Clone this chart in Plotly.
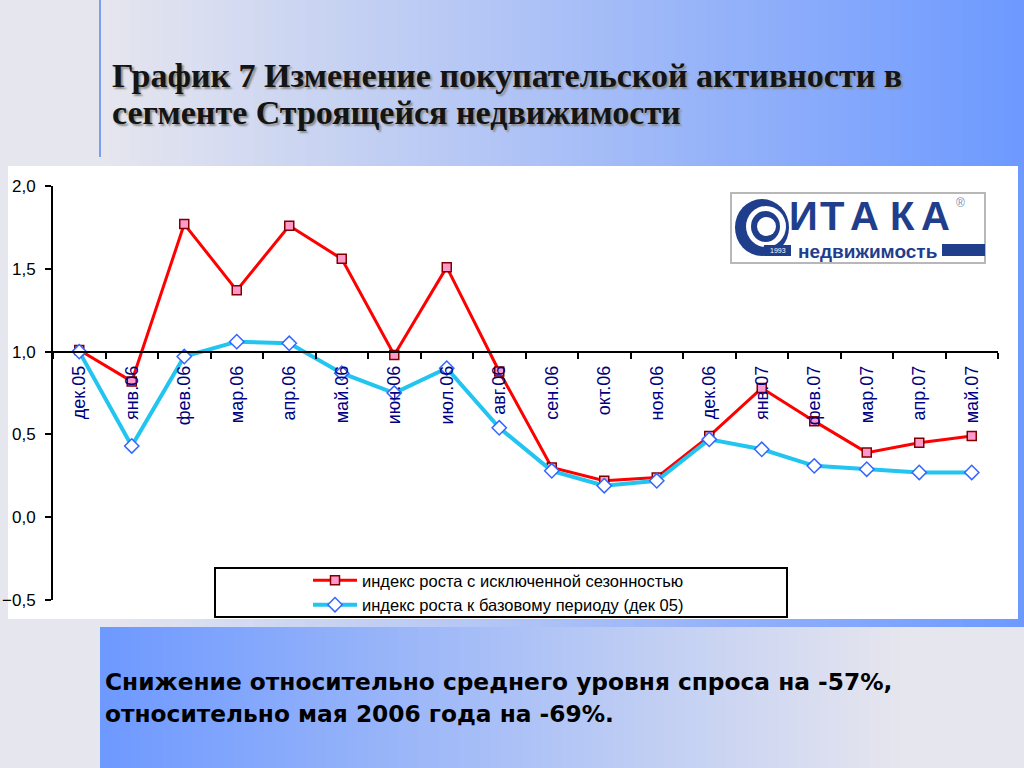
import plotly.graph_objects as go

# ---------------- data ----------------
months = ["дек.05", "янв.06", "фев.06", "мар.06", "апр.06", "май.06", "июн.06", "июл.06", "авг.06",
          "сен.06", "окт.06", "ноя.06", "дек.06", "янв.07", "фев.07", "мар.07", "апр.07", "май.07"]
seasonal_index = [1.01, 0.82, 1.77, 1.37, 1.76, 1.56, 0.98, 1.51, 0.88,
                  0.30, 0.22, 0.24, 0.49, 0.78, 0.58, 0.39, 0.45, 0.49]
base_index = [1.00, 0.43, 0.97, 1.06, 1.05, 0.87, 0.75, 0.90, 0.54,
              0.28, 0.19, 0.22, 0.47, 0.41, 0.31, 0.29, 0.27, 0.27]
series_names = ["индекс роста с исключенной сезонностью",
                "индекс роста к базовому периоду (дек 05)"]
y_ticks = [-0.5, 0.0, 0.5, 1.0, 1.5, 2.0]
title_lines = ["График 7 Изменение покупательской активности в",
               "сегменте Строящейся недвижимости"]
note_lines = ["Снижение относительно среднего уровня спроса на -57%,",
              "относительно мая 2006 года на -69%."]
logo_letters = ["И", "Т", "А", "К", "А"]
logo_word = "недвижимость"

W, H = 1024, 768


def X(px):
    return px / W


def Y(py):
    return 1 - py / H


def lerp_color(c1, c2, t):
    a = [int(c1[i:i + 2], 16) for i in (1, 3, 5)]
    b = [int(c2[i:i + 2], 16) for i in (1, 3, 5)]
    return "rgb(%d,%d,%d)" % tuple(round(a[k] + (b[k] - a[k]) * t) for k in range(3))


LIGHT = "#e6e6ee"
BLUE = "#6d99ff"

shapes = []
# gradient bands
N = 90
x0, x1 = 100, 1024
for i in range(N):
    xa = x0 + (x1 - x0) * i / N
    xb = x0 + (x1 - x0) * (i + 1) / N + 0.8
    t = (i + 0.5) / N
    shapes.append(dict(type="rect", xref="paper", yref="paper", x0=X(xa), x1=X(xb), y0=Y(627), y1=Y(0),
                       fillcolor=lerp_color(LIGHT, BLUE, t), line=dict(width=0), layer="below"))
    shapes.append(dict(type="rect", xref="paper", yref="paper", x0=X(xa), x1=X(xb), y0=Y(768), y1=Y(627),
                       fillcolor=lerp_color(BLUE, LIGHT, min(1, t * 1.15)), line=dict(width=0), layer="below"))
# left blue vertical line at top
shapes.append(dict(type="line", xref="paper", yref="paper", x0=X(100), x1=X(100), y0=Y(157), y1=Y(0),
                   line=dict(color="#7b9ef0", width=2), layer="below"))
# white chart panel
shapes.append(dict(type="rect", xref="paper", yref="paper", x0=X(8), x1=X(1018), y0=Y(619), y1=Y(166),
                   fillcolor="white", line=dict(width=0), layer="below"))
# legend box
shapes.append(dict(type="rect", xref="paper", yref="paper", x0=X(215), x1=X(787), y0=Y(617), y1=Y(568),
                   fillcolor="white", line=dict(color="black", width=2), layer="below"))
# logo
NAVY = "#1f3e8c"
shapes.append(dict(type="rect", xref="paper", yref="paper", x0=X(731), x1=X(985), y0=Y(263), y1=Y(193),
                   fillcolor="white", line=dict(color="#b8b8b8", width=2), layer="below"))
shapes.append(dict(type="circle", xref="paper", yref="paper", x0=X(735), x1=X(789), y0=Y(256), y1=Y(199),
                   fillcolor=NAVY, line=dict(width=0)))
shapes.append(dict(type="circle", xref="paper", yref="paper", x0=X(746), x1=X(786), y0=Y(247), y1=Y(206),
                   fillcolor="white", line=dict(width=0)))
shapes.append(dict(type="circle", xref="paper", yref="paper", x0=X(751), x1=X(780), y0=Y(242), y1=Y(211),
                   fillcolor=NAVY, line=dict(width=0)))
shapes.append(dict(type="circle", xref="paper", yref="paper", x0=X(757), x1=X(776), y0=Y(236), y1=Y(217),
                   fillcolor="white", line=dict(width=0)))
shapes.append(dict(type="rect", xref="paper", yref="paper", x0=X(764), x1=X(791), y0=Y(256), y1=Y(245),
                   fillcolor=NAVY, line=dict(width=0)))
shapes.append(dict(type="rect", xref="paper", yref="paper", x0=X(942), x1=X(985), y0=Y(256), y1=Y(244),
                   fillcolor=NAVY, line=dict(width=0)))

annotations = []
for line, cy in zip(title_lines, [75, 112]):
    annotations.append(dict(text="<b>" + line + "</b>", xref="paper", yref="paper", x=X(110), y=Y(cy),
                            xanchor="left", yanchor="middle", align="left", showarrow=False,
                            font=dict(family="Liberation Serif, Times New Roman, serif", size=34, color="#141414",
                                      shadow="2px 2px 2px #8a8a8a")))
for line, cy in zip(note_lines, [681, 713]):
    annotations.append(dict(text="<b>" + line + "</b>", xref="paper", yref="paper", x=X(103), y=Y(cy),
                            xanchor="left", yanchor="middle", align="left", showarrow=False,
                            font=dict(family="DejaVu Sans, Verdana, sans-serif", size=23.3, color="black")))
# logo letters
for ch, cx in zip(logo_letters, [803, 832, 864, 902, 935]):
    annotations.append(dict(text="<b>" + ch + "</b>", xref="paper", yref="paper", x=X(cx), y=Y(216),
                            xanchor="center", yanchor="middle", showarrow=False, borderpad=0,
                            font=dict(family="Liberation Sans, Arial", size=40, color=NAVY)))
annotations.append(dict(text="®", xref="paper", yref="paper", x=X(960), y=Y(203), xanchor="center",
                        yanchor="middle", showarrow=False, borderpad=0,
                        font=dict(family="Liberation Sans", size=12, color="#7a8ab0")))
annotations.append(dict(text="<b>" + logo_word + "</b>", xref="paper", yref="paper", x=X(867), y=Y(251),
                        xanchor="center", yanchor="middle", showarrow=False, borderpad=0,
                        font=dict(family="Liberation Sans, Arial", size=19, color=NAVY)))
annotations.append(dict(text="1993", xref="paper", yref="paper", x=X(777.5), y=Y(250.5),
                        xanchor="center", yanchor="middle", showarrow=False, borderpad=0,
                        font=dict(family="Liberation Sans", size=7, color="white")))

fig = go.Figure()
fig.add_trace(go.Scatter(x=months, y=seasonal_index, name=series_names[0], mode="lines+markers",
                         line=dict(color="#ff0000", width=3),
                         marker=dict(symbol="square", size=9, color="#ff99cc",
                                     line=dict(color="#800000", width=1.5))))
fig.add_trace(go.Scatter(x=months, y=base_index, name=series_names[1], mode="lines+markers",
                         line=dict(color="#22c4f0", width=4),
                         marker=dict(symbol="diamond", size=11, color="white",
                                     line=dict(color="#3366ff", width=1.5))))

ydom = [Y(600), Y(186)]
yr = [-0.5, 2.0]
cross = 1.0
xpos = ydom[0] + (cross - yr[0]) / (yr[1] - yr[0]) * (ydom[1] - ydom[0])

fig.update_layout(
    width=W, height=H,
    margin=dict(l=0, r=0, t=0, b=0, pad=0, autoexpand=False),
    paper_bgcolor=LIGHT,
    plot_bgcolor="rgba(0,0,0,0)",
    separators=", ",
    font=dict(family="Liberation Sans, Arial, sans-serif"),
    shapes=shapes,
    annotations=annotations,
    showlegend=True,
    legend=dict(x=X(308), y=Y(563), xanchor="left", yanchor="top", bgcolor="rgba(0,0,0,0)",
                borderwidth=0, font=dict(size=16.5, color="black"), tracegroupgap=0, itemwidth=44),
    xaxis=dict(type="category", categoryorder="array", categoryarray=months,
               domain=[X(53), X(998)], range=[-0.5, len(months) - 0.5],
               anchor="free", position=xpos, automargin=False,
               showline=True, linecolor="black", linewidth=2,
               ticks="outside", tickson="boundaries", ticklen=6, tickwidth=2, tickcolor="black",
               tickangle=-90, tickfont=dict(size=18, color="#000080"), ticklabelstandoff=6,
               showgrid=False, zeroline=False),
    yaxis=dict(domain=ydom, range=yr, tickvals=y_ticks, tickformat=".1f", automargin=False,
               showline=True, linecolor="black", linewidth=2,
               ticks="outside", ticklen=6, tickwidth=2, tickcolor="black",
               tickfont=dict(size=17, color="black"), ticklabelstandoff=6,
               showgrid=False, zeroline=False),
)

fig.write_html(
    "out.html",
    config={"displayModeBar": False},
    post_script=("document.documentElement.style.margin='0';document.body.style.margin='0';"
                 "document.body.style.overflow='hidden';"
                 "document.body.style.background='" + LIGHT + "';"
                 "var d=document.getElementById('{plot_id}');"
                 "d.style.position='fixed';d.style.left='0px';d.style.top='0px';"),
)
